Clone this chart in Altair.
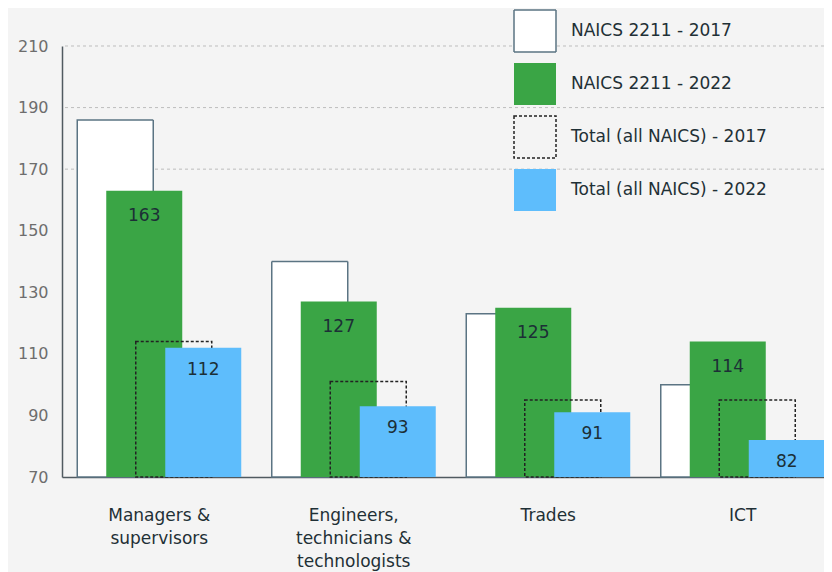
import altair as alt
import pandas as pd

FONT = "DejaVu Sans"

categories = ["Managers &\nsupervisors", "Engineers,\ntechnicians &\ntechnologists", "Trades", "ICT"]
series = ["NAICS 2211 - 2017", "NAICS 2211 - 2022", "Total (all NAICS) - 2017", "Total (all NAICS) - 2022"]
naics_2017 = [186, 140, 123, 100]
naics_2022 = [163, 127, 125, 114]
total_2017 = [114, 101, 95, 95]
total_2022 = [112, 93, 91, 82]
grid_values = [170, 190, 210]
y_ticks = [70, 90, 110, 130, 150, 170, 190, 210]

rows = []
for s, vals in zip(series, [naics_2017, naics_2022, total_2017, total_2022]):
    for c, v in zip(categories, vals):
        rows.append({"category": c, "series": s, "value": v})
df = pd.DataFrame(rows)
grid_df = pd.DataFrame({"value": grid_values})

fill_range = ["#ffffff", "#3aa545", "transparent", "#5ebdfc"]
stroke_range = ["#5b7483", "transparent", "#222222", "transparent"]
dash_range = [[1, 0], [1, 0], [3, 2], [1, 0]]
offsets = [-44, -15, 14.5, 44]

legend = alt.Legend(
    orient="none", legendX=451, legendY=-37, title=None,
    symbolType="square", symbolSize=1764, symbolStrokeWidth=1.5,
    rowPadding=5, labelOffset=14, labelFontSize=17, labelColor="#1f3036",
    labelFont=FONT, padding=0, labelLimit=400,
)

x_enc = alt.X(
    "category:N", sort=categories, title=None,
    scale=alt.Scale(range=[0, 778], paddingInner=0, paddingOuter=0),
    axis=alt.Axis(
        labelExpr="split(datum.label, '\\n')", labelAngle=0, ticks=False,
        domainColor="#505a60", domainWidth=1.5, labelFontSize=17,
        labelColor="#1f3036", labelFont=FONT, labelPadding=30, labelLineHeight=23,
    ),
)
y_scale = alt.Scale(domain=[70, 210], nice=False, zero=False)
y_axis = alt.Axis(
    values=y_ticks, grid=False, ticks=False, domainColor="#505a60",
    domainWidth=1.5, labelFontSize=16, labelColor="#6d6d6d", labelFont=FONT,
    labelPadding=14,
)
y_enc = alt.Y("value:Q", scale=y_scale, title=None, axis=y_axis)

base = alt.Chart(df)

grid = alt.Chart(grid_df).mark_rule(
    color="#bdbdbd", strokeDash=[3, 3], strokeWidth=1
).encode(y=y_enc)

bars = []
for s, off in zip(series, offsets):
    bars.append(
        base.transform_filter(alt.datum.series == s)
        .mark_bar(width=76, xOffset=off, strokeWidth=1.5)
        .encode(
            x=x_enc,
            y=y_enc,
            y2=alt.datum(70),
            fill=alt.Fill("series:N", scale=alt.Scale(domain=series, range=fill_range), legend=legend),
            stroke=alt.Stroke("series:N", scale=alt.Scale(domain=series, range=stroke_range), legend=legend),
            strokeDash=alt.StrokeDash("series:N", scale=alt.Scale(domain=series, range=dash_range), legend=legend),
        )
    )

labels = []
for s, off, dy in [(series[1], offsets[1], 25), (series[3], offsets[3], 22)]:
    labels.append(
        base.transform_filter(alt.datum.series == s)
        .mark_text(xOffset=off, dy=dy, baseline="middle", fontSize=17, font=FONT, color="#1c2f36")
        .encode(x=x_enc, y=y_enc, text=alt.Text("value:Q"))
    )

chart = alt.layer(grid, *bars, *labels).properties(
    width=762, height=431,
    autosize=alt.AutoSizeParams(type="none"),
    padding={"left": 54, "top": 38, "right": 0, "bottom": 95},
    background="#f4f4f4",
).configure_view(stroke=None)

chart.save("out.html", embed_options={"renderer": "svg", "actions": False})
